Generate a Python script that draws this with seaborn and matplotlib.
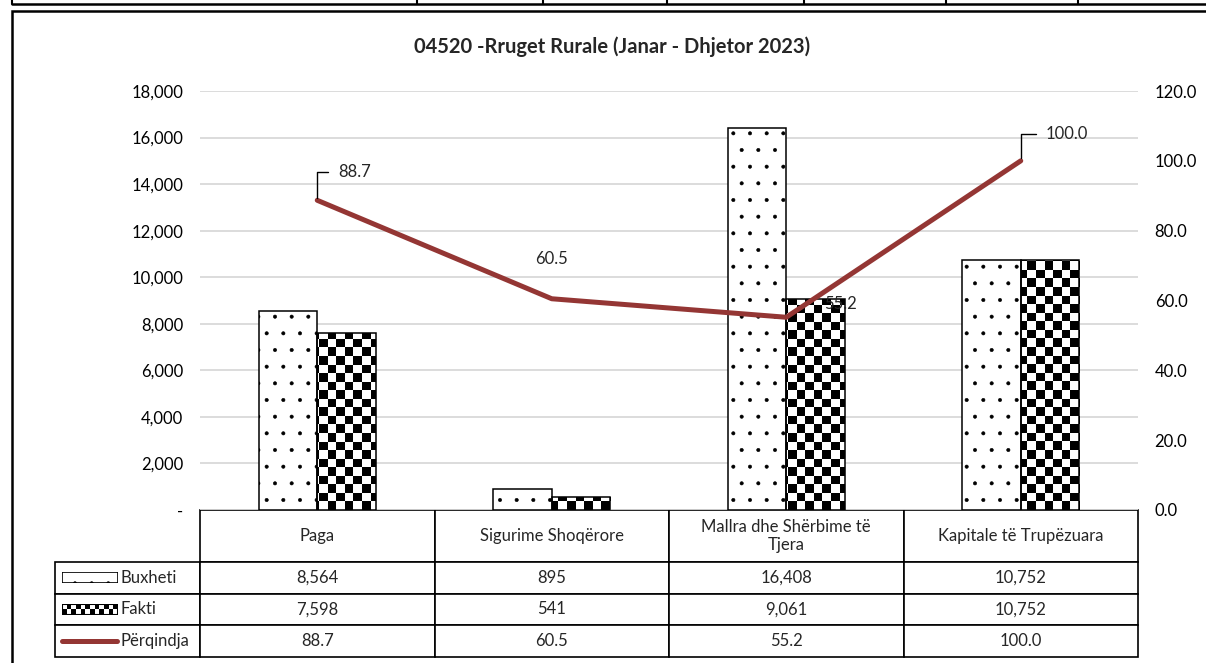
import textwrap
import numpy as np
import pandas as pd
import matplotlib
matplotlib.use('Agg')
import matplotlib.pyplot as plt
from matplotlib.lines import Line2D
from matplotlib.patches import Rectangle
import seaborn as sns

# data
categories = ['Paga', 'Sigurime Shoqërore', 'Mallra dhe Shërbime të Tjera', 'Kapitale të Trupëzuara']
buxheti = [8564, 895, 16408, 10752]
fakti = [7598, 541, 9061, 10752]
perqindja = [88.7, 60.5, 55.2, 100.0]
series_names = ['Buxheti', 'Fakti', 'Përqindja']
title = '04520 -Rruget Rurale (Janar - Dhjetor 2023)'

LINE_COLOR = '#943634'
W, H = 1206, 663
FS = 12

sns.set_theme(style='white')
plt.rcParams['font.family'] = ['Lato', 'DejaVu Sans']
plt.rcParams['hatch.linewidth'] = 0.4

fig = plt.figure(figsize=(W / 100, H / 100), dpi=100)


def px(x0, y0, x1, y1):
    # pixel box (top-left origin) -> figure fraction rect
    return [x0 / W, 1 - y1 / H, (x1 - x0) / W, (y1 - y0) / H]


ax = fig.add_axes(px(200, 91, 1138, 510))

df = pd.DataFrame({
    'Kategoria': categories * 2,
    'Seria': ['Buxheti'] * 4 + ['Fakti'] * 4,
    'Vlera': buxheti + fakti,
})
sns.barplot(data=df, x='Kategoria', y='Vlera', hue='Seria', ax=ax,
            width=0.5, gap=0, legend=False, errorbar=None)

ax.set_xlim(-0.5, len(categories) - 0.5)
ax.set_ylim(0, 18000)
ax.set_yticks(np.arange(0, 18001, 2000))
ax.set_yticklabels(['-' if v == 0 else f'{v:,}' for v in np.arange(0, 18001, 2000)])
ax.set_xticks([])
ax.set_xlabel('')
ax.set_ylabel('')
ax.set_axisbelow(True)
ax.yaxis.grid(True, color='#d9d9d9', linewidth=1.3)
ax.tick_params(axis='y', length=0, pad=12, labelsize=FS, labelcolor='black')
for s in ax.spines.values():
    s.set_visible(False)

# checkerboard texture (~8.5 px cells) for the Fakti bars
ny, nx = int(419 / 8.5), int(938 / 8.5)
checker = (np.indices((ny, nx)).sum(axis=0) % 2).astype(float)

bux_bars, fak_bars = ax.containers[0], ax.containers[1]
for bar in bux_bars:
    bar.set_facecolor('white')
    bar.set_edgecolor('black')
    bar.set_linewidth(1.1)
    bar.set_hatch('.')
    bar.set_zorder(2)
for bar in fak_bars:
    bar.set_facecolor('none')
    bar.set_edgecolor('black')
    bar.set_linewidth(1.1)
    bar.set_zorder(3)
    im = ax.imshow(checker, cmap='gray_r', extent=(-0.5, 3.5, 0, 18000),
                   aspect='auto', interpolation='nearest', zorder=1)
    im.set_clip_path(bar)
ax.set_xlim(-0.5, len(categories) - 0.5)
ax.set_ylim(0, 18000)

# percentage line on the right axis
ax2 = ax.twinx()
sns.lineplot(x=np.arange(len(categories)), y=perqindja, ax=ax2,
             color=LINE_COLOR, linewidth=3.6, legend=False)
ax2.set_ylim(0, 120)
ax2.set_yticks(np.arange(0, 121, 20))
ax2.set_yticklabels([f'{v:.1f}' for v in np.arange(0, 121, 20)])
ax2.tick_params(axis='y', length=0, pad=12, labelsize=FS, labelcolor='black')
ax2.set_ylabel('')
ax2.grid(False)
for s in ax2.spines.values():
    s.set_visible(False)

label_offsets = [(21, 28, True), (0, 40, False), (38, 13, False), (25, 27, True)]
for i, v in enumerate(perqindja):
    dx, dy, leader = label_offsets[i]
    if leader:
        ax2.annotate(f'{v:.1f}', xy=(i, v), xytext=(dx, dy), textcoords='offset pixels',
                     ha='left', va='center', fontsize=FS,
                     arrowprops=dict(arrowstyle='-', color='black', lw=1.0,
                                     connectionstyle='angle,angleA=0,angleB=90,rad=0',
                                     relpos=(0, 0.5), shrinkA=5, shrinkB=2))
    else:
        ax2.annotate(f'{v:.1f}', xy=(i, v), xytext=(dx, dy), textcoords='offset pixels',
                     ha='center' if dx == 0 else 'left', va='center', fontsize=FS)

# data table under the chart; first column holds the series names (legend keys)
cell_text = [[series_names[0]] + [f'{v:,}' for v in buxheti],
             [series_names[1]] + [f'{v:,}' for v in fakti],
             [series_names[2]] + [f'{v:.1f}' for v in perqindja]]
col_labels = [''] + [textwrap.fill(c, 24) for c in categories]
tbl = ax.table(cellText=cell_text, colLabels=col_labels, cellLoc='center',
               bbox=[-145 / 938, -147 / 419, 1083 / 938, 147 / 419])
tbl.auto_set_font_size(False)
tbl.set_fontsize(FS)
row_h = [52, 32, 31, 32]
for (r, c), cell in tbl.get_celld().items():
    cell.set_height(row_h[r] / 419)
    cell.set_width(145 / 938 if c == 0 else 0.25)
    cell.set_edgecolor('black')
    cell.set_linewidth(1.2)
    cell.set_facecolor('white')
    if c == 0:
        if r == 0:
            cell.visible_edges = ''
            cell.set_facecolor('none')
        else:
            cell.PAD = 0.455
            cell.get_text().set_ha('left')
            cell._loc = 'left'

# legend keys inside the table's first column
kax = fig.add_axes(px(62, 572, 118, 583))
kax.add_patch(Rectangle((0, 0), 1, 1, facecolor='white', edgecolor='black',
                        hatch='.', linewidth=1.2, transform=kax.transAxes))
kax.set_axis_off()

kax2 = fig.add_axes(px(62, 604, 118, 615))
kax2.imshow((np.indices((2, 12)).sum(axis=0) % 2).astype(float), cmap='gray_r',
            aspect='auto', interpolation='nearest')
kax2.add_patch(Rectangle((0, 0), 1, 1, facecolor='none', edgecolor='black',
                         linewidth=1.5, transform=kax2.transAxes))
kax2.set_axis_off()

fig.add_artist(Line2D([62 / W, 117 / W], [1 - 641 / H, 1 - 641 / H],
                      color=LINE_COLOR, linewidth=3.6, solid_capstyle='round'))

# title
fig.text(612 / W, 1 - 47 / H, title, ha='center', va='center',
         fontsize=14.5, fontweight='bold')

# chart frame and the cut-off table row above it
fig.add_artist(Rectangle((12 / W, -0.05), 1.2, 1 - 11 / H + 0.05, fill=False,
                         edgecolor='black', linewidth=1.8, transform=fig.transFigure))
fig.add_artist(Line2D([12 / W, 1], [1 - 4 / H, 1 - 4 / H], color='black', linewidth=1.8))
for xv in [12, 417, 543, 667, 804, 946, 1078]:
    fig.add_artist(Line2D([xv / W, xv / W], [1 - 4 / H, 1], color='black', linewidth=1.5))

fig.savefig('out.png', dpi=100, facecolor='white')
